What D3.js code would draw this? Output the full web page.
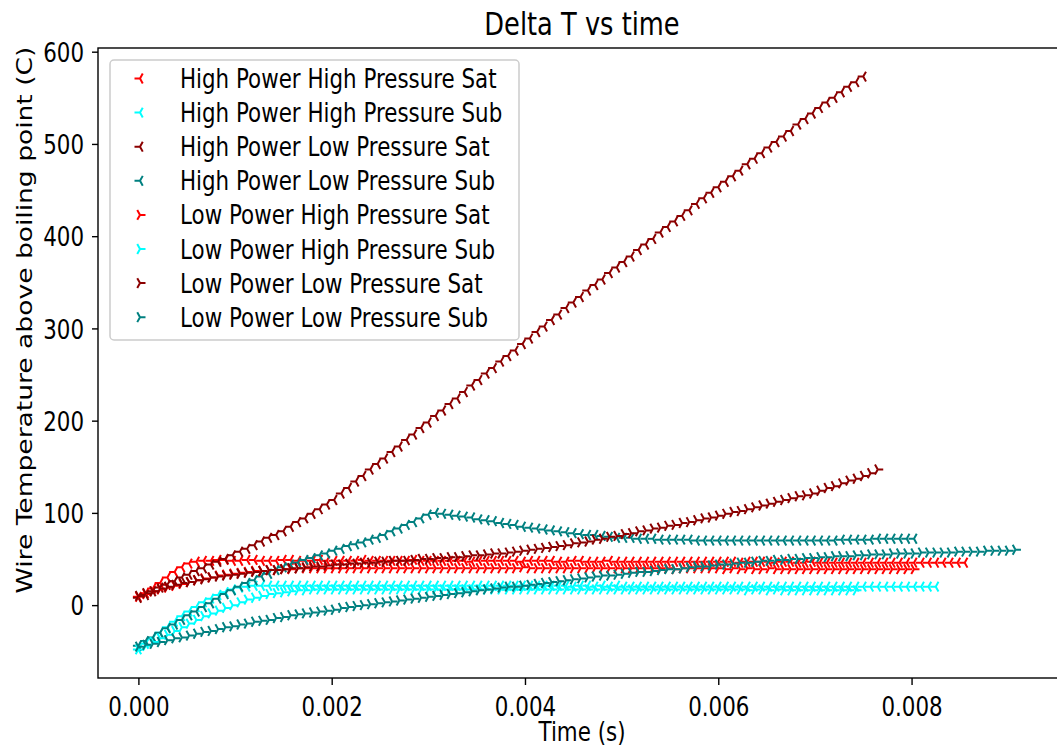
<!DOCTYPE html>
<html>
<head>
<meta charset="utf-8">
<script src="https://cdn.jsdelivr.net/npm/d3@7"></script>
<style>
  body { margin: 0; background: #fff; }
  svg { display: block; font-family: "DejaVu Sans", sans-serif; }
</style>
</head>
<body>
<div class="graph"></div>
<script>
// sample times in microseconds (shared by all runs, each run uses its first N samples)
const timeMicros = [0,75,150,225,300,375,450,525,600,675,750,825,900,975,1050,1125,1200,1275,1350,1425,
  1500,1575,1650,1725,1800,1875,1950,2025,2100,2175,2250,2325,2400,2475,2550,2625,2700,2775,2850,2925,
  3000,3075,3150,3225,3300,3375,3450,3525,3600,3675,3750,3825,3900,3975,4050,4125,4200,4275,4350,4425,
  4500,4575,4650,4725,4800,4875,4950,5025,5100,5175,5250,5325,5400,5475,5550,5625,5700,5775,5850,5925,
  6000,6075,6150,6225,6300,6375,6450,6525,6600,6675,6750,6825,6900,6975,7050,7125,7200,7275,7350,7425,
  7500,7575,7650,7725,7800,7875,7950,8025,8100,8175,8250,8325,8400,8475,8550,8625,8700,8775,8850,8925,
  9000,9075];

// delta T (C) per run
const hpHpSat = [9,13,18,24,30,36,41,45,47,48, 48,49,49,48,48,49,49,48,48,48, 49,49,48,48,48,49,48,48,48,48,
  48,49,48,48,48,48,48,48,49,48, 48,48,48,48,48,48,47,48,48,48, 48,48,48,47,48,48,48,48,47,47,
  48,48,47,47,47,48,47,47,47,47, 47,47,47,47,47,47,47,47,47,47, 47,47,47,46,47,47,47,47,46,47,
  47,46,46,47,46,46,46,46,46,46, 46,46,46,46,46,46,46,46,46,46, 46,46,46,46,46];
const hpHpSub = [-48,-42,-36,-30,-24,-18,-12,-7,-2,3, 7,11,14,17,19,20,21,21,21,21, 21,21,21,21,21,21,21,21,21,21,
  21,21,21,21,21,21,21,21,21,21, 21,21,21,21,21,21,21,21,21,21, 21,21,21,21,21,21,21,21,21,21,
  20,21,21,20,21,20,21,20,20,20, 20,20,20,20,20,20,20,20,20,20, 20,20,20,20,20,20,20,20,20,20,
  20,20,20,20,20,20,20,20,20,20, 20,20,20,20,20,20,20,20,20,20, 20];
const hpLpSat = [8,11,15,19,22,26,30,33,37,40, 44,47,50,54,58,61,65,69,73,76, 80,85,90,94,99,104,109,114,121,127,
  134,140,147,153,159,166,172,179,185,192, 198,205,211,218,224,231,238,244,251,257,
  264,270,276,283,289,296,302,309,315,322, 328,334,341,347,353,360,366,372,378,385,
  391,397,404,410,416,422,428,435,441,447, 453,459,465,471,478,484,490,496,502,508,
  514,521,527,533,539,545,550,556,562,567, 573];
const hpLpSub = [-44,-39,-35,-30,-25,-21,-16,-11,-7,-2, 2,7,12,16,20,24,27,31,34,38, 41,44,46,49,51,54,56,59,61,64,
  66,68,71,73,76,80,83,87,90,94, 98,100,99,98,97,96,95,93,92,91, 89,88,87,85,84,83,82,81,80,79,
  78,77,76,76,75,74,73,73,73,72, 72,72,71,71,71,71,71,70,70,70, 70,70,70,70,70,70,70,70,70,70,
  70,70,70,70,70,70,70,71,71,71, 71,71,72,72,72,72,72,72];
const lpHpSat = [9,12,15,17,19,21,23,25,27,29, 30,32,33,34,35,36,37,37,38,38, 39,39,40,40,40,40,40,40,40,40,
  40,40,40,40,40,40,40,40,40,40, 40,40,40,40,40,40,40,40,40,40, 40,40,40,41,40,40,40,40,40,40,
  40,40,40,40,40,40,40,40,40,40, 40,40,40,40,39,40,40,40,40,40, 40,39,40,39,40,39,39,40,39,39,
  39,39,39,39,39,39,39,39,39,39, 39,39,39,39,39,39,39,39];
const lpHpSub = [-48,-44,-40,-36,-32,-28,-24,-20,-16,-12, -9,-6,-3,0,3,6,8,10,12,13, 14,15,16,16,17,17,17,17,17,17,
  17,17,17,17,17,17,17,17,17,17, 17,17,17,17,17,17,17,17,17,17, 17,17,17,17,17,17,17,17,17,17,
  17,17,17,17,17,17,17,17,17,17, 17,17,17,17,17,17,17,17,17,17, 17,17,17,17,16,17,17,16,17,16,
  16,16,16,16,16,16,16,16,16,16];
const lpLpSat = [10,13,15,18,20,22,24,25,27,28, 30,31,32,33,34,35,36,37,38,38, 39,40,40,41,42,42,43,44,44,45,
  45,46,46,47,47,48,48,48,49,50, 50,51,51,52,52,53,54,54,55,56, 56,57,58,59,60,61,62,63,64,65,
  67,68,69,71,72,74,75,77,78,80, 81,83,84,86,87,89,90,92,94,95, 97,99,101,102,104,106,108,110,112,114,
  116,118,119,121,124,127,129,132,135,137, 140,143,147];
const lpLpSub = [-45,-43,-42,-40,-38,-36,-35,-33,-31,-29, -28,-26,-24,-23,-21,-20,-18,-17,-16,-14,
  -13,-11,-10,-9,-8,-7,-6,-5,-3,-2, -1,0,1,2,3,4,5,6,7,8, 9,10,11,12,13,14,15,16,17,18,
  19,20,20,21,22,23,24,25,26,27, 28,29,30,31,32,32,33,34,35,36, 36,37,38,39,39,40,41,42,42,43,
  44,44,45,46,46,47,48,48,49,49, 50,50,51,51,52,52,53,53,53,54, 54,55,55,55,56,56,56,56,57,57,
  57,57,57,58,58,58,58,59,59,59, 59,60];

const seriesNames = ["High Power High Pressure Sat", "High Power High Pressure Sub",
  "High Power Low Pressure Sat", "High Power Low Pressure Sub",
  "Low Power High Pressure Sat", "Low Power High Pressure Sub",
  "Low Power Low Pressure Sat", "Low Power Low Pressure Sub"];
const seriesValues = [hpHpSat, hpHpSub, hpLpSat, hpLpSub, lpHpSat, lpHpSub, lpLpSat, lpLpSub];
const seriesColors = ["#ff0000", "#00ffff", "#8b0000", "#008080", "#ff0000", "#00ffff", "#8b0000", "#008080"];
const seriesMarkers = ["left", "left", "left", "left", "right", "right", "right", "right"];

const xTicks = [0, 0.002, 0.004, 0.006, 0.008];
const yTicks = [0, 100, 200, 300, 400, 500, 600];

// Dimensions
let width = 1057;
let height = 750;
let plotLeft = 98, plotRight = 1066, plotTop = 48, plotBottom = 678;

// the picture is a bit taller than wide, so text gets stretched vertically
let stretch = 1.24;
let fontSize = 21.4;

let svg = d3.select(".graph").append("svg")
  .attr("width", width)
  .attr("height", height);

let x = d3.scaleLinear().domain([-0.000418, 0.009598]).range([plotLeft, plotRight]);
let y = d3.scaleLinear().domain([-79, 604]).range([plotBottom, plotTop]);

// tri marker paths (matplotlib '3' and '4')
let r = 5.5;
function triPath(dir) {
  let s = dir === "left" ? -1 : 1;
  let ay = 0.8 * r * 1.12;
  return `M0,0L${s * r},0M0,0L${-s * 0.5 * r},${-ay}M0,0L${-s * 0.5 * r},${ay}`;
}

// text helper: anchor at (px, py) and stretch vertically
function addText(px, py, str, size, anchor) {
  return svg.append("text")
    .attr("transform", `translate(${px},${py}) scale(1,${stretch})`)
    .attr("text-anchor", anchor || "middle")
    .attr("fill", "#000")
    .style("font-size", size + "px")
    .text(str);
}

// Draw the series (markers only)
let plot = svg.append("g");
seriesValues.forEach((vals, k) => {
  let pts = vals.map((v, i) => ({ t: timeMicros[i] / 1e6, v: v }));
  plot.append("g")
    .selectAll("path")
    .data(pts)
    .join("path")
    .attr("transform", d => `translate(${x(d.t)},${y(d.v)})`)
    .attr("d", triPath(seriesMarkers[k]))
    .attr("fill", "none")
    .attr("stroke", seriesColors[k])
    .attr("stroke-width", 2);
});

// Axes
let xAxis = svg.append("g")
  .attr("transform", `translate(0,${plotBottom})`)
  .call(d3.axisBottom(x).tickValues(xTicks).tickFormat(d3.format(".3f")).tickSize(7));
let yAxis = svg.append("g")
  .attr("transform", `translate(${plotLeft},0)`)
  .call(d3.axisLeft(y).tickValues(yTicks).tickSize(6));

[xAxis, yAxis].forEach(a => {
  a.select(".domain").remove();
  a.selectAll("line").attr("stroke", "#000").attr("stroke-width", 1.4);
  a.selectAll("text")
    .attr("fill", "#000")
    .attr("x", null).attr("y", null).attr("dy", null)
    .style("font-size", fontSize + "px")
    .style("font-family", "DejaVu Sans");
});
xAxis.selectAll("text").attr("transform", `translate(0,38) scale(1,${stretch})`);
yAxis.selectAll("text").attr("transform", `translate(-14,9.6) scale(1,${stretch})`);

// Spines
svg.append("rect")
  .attr("x", plotLeft).attr("y", plotTop)
  .attr("width", plotRight - plotLeft).attr("height", plotBottom - plotTop)
  .attr("fill", "none").attr("stroke", "#000").attr("stroke-width", 1.4);

// Title and labels
addText(582, 35, "Delta T vs time", 25.7);
addText(582, 741, "Time (s)", fontSize);

svg.append("text")
  .attr("transform", `translate(32,320) scale(1,${stretch}) rotate(-90)`)
  .attr("text-anchor", "middle")
  .attr("fill", "#000")
  .style("font-size", fontSize + "px")
  .text("Wire Temperature above boiling point (C)");

// Legend
let legend = svg.append("g");
legend.append("rect")
  .attr("x", 110).attr("y", 60)
  .attr("width", 409).attr("height", 280)
  .attr("rx", 4)
  .attr("fill", "#fff").attr("fill-opacity", 0.8)
  .attr("stroke", "#cccccc").attr("stroke-width", 1.5);

let rows = legend.selectAll(".row")
  .data(seriesNames)
  .join("g")
  .attr("class", "row")
  .attr("transform", (d, i) => `translate(0,${78.5 + i * 34.1})`);

rows.append("path")
  .attr("transform", "translate(140,0)")
  .attr("d", (d, i) => triPath(seriesMarkers[i]))
  .attr("fill", "none")
  .attr("stroke", (d, i) => seriesColors[i])
  .attr("stroke-width", 2);

rows.append("text")
  .attr("transform", `translate(180,9.5) scale(1,${stretch})`)
  .attr("fill", "#000")
  .style("font-size", fontSize + "px")
  .text(d => d);
</script>
</body>
</html>
